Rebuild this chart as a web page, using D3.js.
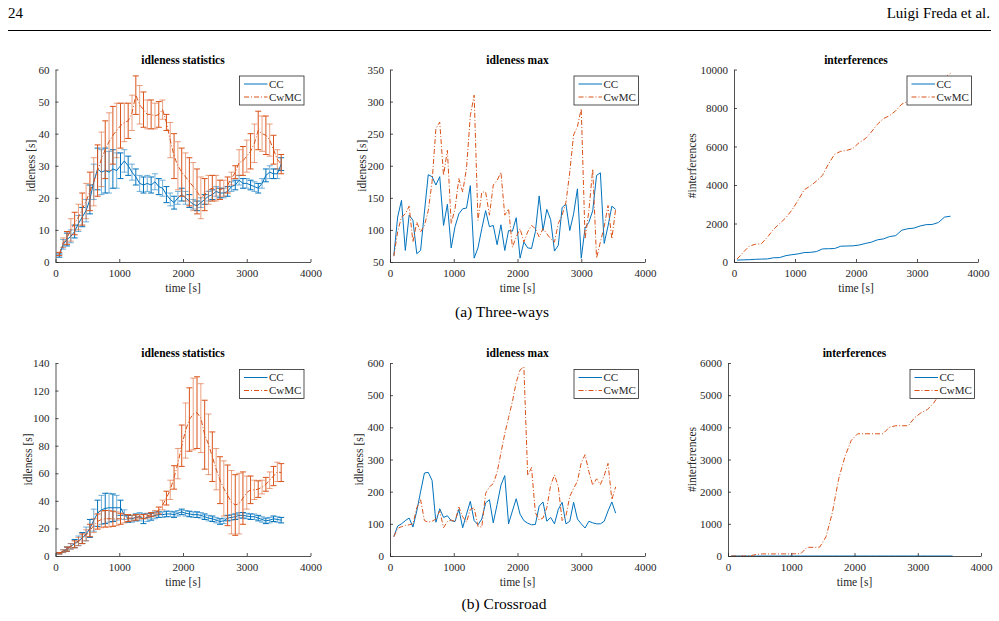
<!DOCTYPE html>
<html>
<head>
<meta charset="utf-8">
<script src="https://cdn.jsdelivr.net/npm/d3@7"></script>
<style>
  body { margin: 0; background: #fff; }
  svg, svg text { font-family: "Liberation Serif", "DejaVu Serif", "Noto Serif", "Times New Roman", serif; }
</style>
</head>
<body>
<div id="container"></div>
<script>
/* DATA */
// sample times [s]
const timeFine = [60,120,180,240,300,360,420,480,540,600,660,720,780,840,900,960,1020,1080,1140,1200,
  1260,1320,1380,1440,1500,1560,1620,1680,1740,1800,1860,1920,1980,2040,2100,2160,2220,2280,2340,2400,
  2460,2520,2580,2640,2700,2760,2820,2880,2940,3000,3060,3120,3180,3240,3300,3360,3420,3480,3540]
const timeCoarse = [50,150,250,350,450,550,650,750,850,950,1050,1150,1250,1350,1450,1550,1650,1750,
  1850,1950,2050,2150,2250,2350,2450,2550,2650,2750,2850,2950,3050,3150,3250,3350,3450,3550]

// (a) Three-ways
const statThreeCC = [2,5.5,7,8,9.5,12,14,16,19.5,25,29,28,28.5,28,29,28.5,30,31.5,30,28,26.5,24.5,24,24.5,24,
  25,23.5,23,21,19.5,18.5,20,21,20,19,18,17.5,18.5,19.5,20.5,21,22,21.5,21.5,22,23.5,24,25.5,24.5,24.5,
  24,23.5,23,24.5,27,28,27.5,27.5,30.5]
const statThreeCCErr = [0.5,1.5,2,2,2,2.5,3,3.5,4.5,5.5,6.5,7,7,6.5,6,5.5,4,3.5,3,2.5,
  2.5,2.5,2.5,2.5,2.5,2.5,2.5,2.5,2.5,2,2,2,2,2,2,1.5,1.5,1.5,1.5,1.5,
  1.5,1.5,1.5,1.5,1.5,1.5,1.5,1.5,1.5,1.5,1.5,1.5,1.5,1.5,2,2,1.5,1.5,2]
const statThreeCwMC = [2.5,6,7.5,10,12,14,16.5,19,22,25,28.5,32,35,37.5,39.5,41,42.5,43.5,44,46.5,
  52,49,47.5,46,46,45.5,46,47.5,43.5,38,33,30,28,26.5,25,23.5,22,20,21,22.5,
  23,23,22.5,23,24,26,28,31,31.5,33,34.5,37,41,40,39.5,38,35,32,30.5]
const statThreeCwMCErr = [0.5,1.5,2,3.5,3.5,4,5,5.5,6,7.5,8,8.5,9,9,9,8.5,7,6,5.5,5.5,
  6,6,5.5,4.5,4.5,4,4,3,2.5,5.5,7,7.5,7.5,7.5,7.5,7.5,7,6.5,5,4.5,
  4,4,3,2.5,2.5,2,2,4,4.5,5,5.5,6,6,5.5,6,5,4.5,3,3]
const maxThreeCC = [60,120,146,68,123,115,63,68,128,186,183,170,183,107,140,72,105,125,133,134,
  169,56,72,102,130,105,107,77,108,68,99,98,119,56,81,72,71,97,153,99,
  132,116,67,76,135,140,99,125,164,56,103,112,130,185,189,79,106,137,132]
const maxThreeCwMC = [59,97,120,125,137,81,112,97,107,130,175,258,268,185,224,110,133,180,159,196,
  278,310,115,159,159,123,170,177,190,123,133,73,89,102,81,97,107,102,89,102,
  94,86,81,110,123,143,190,248,261,289,86,130,195,56,81,105,138,86,133]
const interfThreeCC = [100,110,120,140,150,160,220,230,330,380,420,490,500,540,680,690,700,820,
  830,840,880,960,1030,1150,1200,1320,1370,1650,1730,1760,1870,1940,1950,2050,2330,2380]
const interfThreeCwMC = [150,500,820,920,950,1300,1700,2000,2300,2700,3200,3750,3950,4200,4500,5100,5600,5750,
  5800,5900,6200,6400,6750,7150,7450,7600,7850,8200,8350,8600,8800,9000,9200,9400,9600,9800]

// (b) Crossroad
const statCrossCC = [2,3.5,5,7,9,11,13,16,20,26,31,33.5,34.5,35,35,35,35,30,27,27,
  28,28.5,27,28,28.5,29.5,30,30,30.5,30.5,30,31,32,31,30.5,30,30,29.5,28.5,27.5,
  27,26,25,25.5,27.5,28,28.5,29.5,29.5,29,28.5,28.5,27.5,26.5,25.5,26,27,26.5,26]
const statCrossCCErr = [0.5,1,1.5,2,3,3.5,4,5,6.5,8,9.5,10.5,11,10.5,10,9,5.5,3.5,2.5,2.5,
  2.5,3,3.5,3,2.5,2.5,2,2,2,2,2,2,2,2,2,2,2,2,2,2,
  2,2,2,2,2,2,2,2,2,2,2,2,2,2,2,2,2,2,2]
const statCrossCwMC = [2,3.5,5,7,8.5,10.5,12.5,15,18.5,22,25,26.5,27,27,27,27,27,27,27.5,27.5,
  28,28.5,28.5,29,30,31,33,37,42,48,57,67,80,91,99,103,104,100,88,81,
  72,63,55,49,44,39,37,38,42,46,48,48,48.5,50,52,55,58,61,60.5]
const statCrossCwMCErr = [0.5,1,1.5,2,2.5,3,3.5,4,4.5,5,5.5,6,6,6,5.5,5,4,3,2.5,2,
  2,1.5,1.5,1.5,1.5,2,2.5,3.5,5,7,8.5,11,15,20,23,26,26,25,25,22,
  18,15,17,20,22,23,22,22,19,12,10,7,6,5,5,6,7,7,6.5]
const maxCrossCC = [60,93,100,110,118,90,140,200,258,260,235,105,147,120,125,110,107,145,88,130,
  170,110,97,115,165,175,103,160,220,250,100,140,178,130,110,102,97,98,155,168,
  108,120,100,145,167,100,108,167,115,100,87,108,103,100,100,108,140,168,133]
const maxCrossCwMC = [60,86,91,95,97,100,150,175,110,105,108,115,140,88,107,112,107,152,122,105,
  145,150,92,90,195,215,225,260,320,380,430,480,540,578,588,250,275,135,112,118,
  150,220,252,215,110,125,185,210,232,290,315,262,220,240,222,250,288,175,215]
const interfCrossCC = [0,0,0,0,0,0,0,0,0,0,0,0,0,0,0,0,0,0,0,0,0,0,0,0,0,0,0,0,0,0,0,0,0,0,0,0]
const interfCrossCwMC = [0,0,0,5,50,65,65,65,65,65,70,70,270,270,275,600,1350,2400,
  3100,3600,3800,3800,3800,3800,3800,4000,4050,4050,4050,4300,4450,4550,4750,5050,5300,5500]

// tick labels
const xTicks = [0,1000,2000,3000,4000]
const ticksStatThree = [0,10,20,30,40,50,60]
const ticksMaxThree = [50,100,150,200,250,300,350]
const ticksInterfThree = [0,2000,4000,6000,8000,10000]
const ticksStatCross = [0,20,40,60,80,100,120,140]
const ticksMaxCross = [0,100,200,300,400,500,600]
const ticksInterfCross = [0,1000,2000,3000,4000,5000,6000]

const seriesNames = ["CC", "CwMC"]
const captions = ["(a) Three-ways", "(b) Crossroad"]

/* CONSTANTS AND GLOBALS */
const width = 999, height = 621
const fontFamily = "'Liberation Serif', 'DejaVu Serif', 'Noto Serif', 'Times New Roman', serif"
const colors = { CC: "#0072BD", CwMC: "#D95319" }
const dashes = { CC: null, CwMC: "5,2,1,2" }
const axisColor = "#262626"
const rows = [{ top: 69.5, bottom: 262 }, { top: 363, bottom: 556 }]

const panels = [
  { row: 0, x0: 55.5, x1: 310.5, title: "idleness statistics", ylabel: "idleness [s]", yDomain: [0, 60], yTicks: ticksStatThree, ylabOff: 24, bars: true,
    series: [{ name: "CC", t: timeFine, v: statThreeCC, e: statThreeCCErr }, { name: "CwMC", t: timeFine, v: statThreeCwMC, e: statThreeCwMCErr }] },
  { row: 0, x0: 390, x1: 645, title: "idleness max", ylabel: "idleness [s]", yDomain: [50, 350], yTicks: ticksMaxThree, ylabOff: 28, bars: false,
    series: [{ name: "CC", t: timeFine, v: maxThreeCC }, { name: "CwMC", t: timeFine, v: maxThreeCwMC }] },
  { row: 0, x0: 734, x1: 978, title: "interferences", ylabel: "#interferences", yDomain: [0, 10000], yTicks: ticksInterfThree, ylabOff: 42, bars: false,
    series: [{ name: "CC", t: timeCoarse, v: interfThreeCC }, { name: "CwMC", t: timeCoarse, v: interfThreeCwMC }] },
  { row: 1, x0: 55.5, x1: 310.5, title: "idleness statistics", ylabel: "idleness [s]", yDomain: [0, 140], yTicks: ticksStatCross, ylabOff: 27, bars: true,
    series: [{ name: "CC", t: timeFine, v: statCrossCC, e: statCrossCCErr }, { name: "CwMC", t: timeFine, v: statCrossCwMC, e: statCrossCwMCErr }] },
  { row: 1, x0: 390, x1: 645, title: "idleness max", ylabel: "idleness [s]", yDomain: [0, 600], yTicks: ticksMaxCross, ylabOff: 31, bars: false,
    series: [{ name: "CC", t: timeFine, v: maxCrossCC }, { name: "CwMC", t: timeFine, v: maxCrossCwMC }] },
  { row: 1, x0: 728, x1: 981, title: "interferences", ylabel: "#interferences", yDomain: [0, 6000], yTicks: ticksInterfCross, ylabOff: 36, bars: false,
    series: [{ name: "CC", t: timeCoarse, v: interfCrossCC }, { name: "CwMC", t: timeCoarse, v: interfCrossCwMC }] }
]

/* HTML ELEMENTS */
const svg = d3.select("#container")
  .append("svg")
  .attr("width", width)
  .attr("height", height)
  .attr("font-family", fontFamily)
  .style("display", "block")

svg.append("rect").attr("width", width).attr("height", height).attr("fill", "#fff")

// page header
svg.append("text").attr("x", 8).attr("y", 18).attr("font-size", 15).text("24")
svg.append("text").attr("x", 990).attr("y", 18).attr("font-size", 15).attr("text-anchor", "end").text("Luigi Freda et al.")
svg.append("line").attr("x1", 8).attr("x2", 991).attr("y1", 30.5).attr("y2", 30.5).attr("stroke", "#000").attr("stroke-width", 1)

// captions
svg.append("text").attr("x", 502).attr("y", 317).attr("font-size", 15.5).attr("text-anchor", "middle").text(captions[0])
svg.append("text").attr("x", 504).attr("y", 609).attr("font-size", 15.5).attr("text-anchor", "middle").text(captions[1])

panels.forEach((p, pi) => {
  const r = rows[p.row]

  /* SCALES */
  const xScale = d3.scaleLinear().domain([0, 4000]).range([p.x0, p.x1])
  const yScale = d3.scaleLinear().domain(p.yDomain).range([r.bottom, r.top])

  const g = svg.append("g")

  // clip to plot area
  const clipId = "clip" + pi
  g.append("clipPath").attr("id", clipId)
    .append("rect")
    .attr("x", p.x0).attr("y", r.top - 1)
    .attr("width", p.x1 - p.x0).attr("height", r.bottom - r.top + 2)

  const plot = g.append("g").attr("clip-path", `url(#${clipId})`)

  p.series.forEach(s => {
    const pts = s.t.map((t, i) => ({ t, v: s.v[i], e: s.e ? s.e[i] : 0, i }))

    // error bars, every other one a lighter shade
    if (p.bars) {
      plot.append("g")
        .selectAll("path.bar")
        .data(pts)
        .join("path")
        .attr("class", "bar")
        .attr("fill", "none")
        .attr("stroke", colors[s.name])
        .attr("stroke-width", 1)
        .attr("opacity", d => d.i % 2 ? 0.55 : 1)
        .attr("d", d => {
          const cx = xScale(d.t), lo = yScale(d.v - d.e), hi = yScale(d.v + d.e)
          return `M${cx},${lo}V${hi}M${cx - 3},${lo}H${cx + 3}M${cx - 3},${hi}H${cx + 3}`
        })
    }

    const line = d3.line().x(d => xScale(d.t)).y(d => yScale(d.v))
    plot.append("path")
      .datum(pts)
      .attr("fill", "none")
      .attr("stroke", colors[s.name])
      .attr("stroke-width", 1)
      .attr("stroke-dasharray", dashes[s.name])
      .attr("d", line)
  })

  // axes
  const xAxis = d3.axisBottom(xScale).tickValues(xTicks).tickSizeInner(-3).tickSizeOuter(0).tickPadding(7).tickFormat(d3.format("d"))
  const yAxis = d3.axisLeft(yScale).tickValues(p.yTicks).tickSizeInner(-3).tickSizeOuter(0).tickPadding(6).tickFormat(d3.format("d"))

  const gx = g.append("g").attr("transform", `translate(0,${r.bottom})`).call(xAxis)
  const gy = g.append("g").attr("transform", `translate(${p.x0},0)`).call(yAxis)
  ;[gx, gy].forEach(a => {
    a.attr("font-family", fontFamily).attr("font-size", null)
    a.select(".domain").attr("stroke", axisColor).attr("stroke-width", 0.8)
    a.selectAll(".tick line").attr("stroke", axisColor).attr("stroke-width", 0.8)
    a.selectAll(".tick text").attr("fill", axisColor).attr("font-size", 11)
  })

  // title and labels
  g.append("text")
    .attr("x", (p.x0 + p.x1) / 2).attr("y", r.top - 6)
    .attr("text-anchor", "middle").attr("font-weight", "bold").attr("font-size", 11.5)
    .text(p.title)

  g.append("text")
    .attr("x", (p.x0 + p.x1) / 2).attr("y", r.bottom + 29.5)
    .attr("text-anchor", "middle").attr("font-size", 11.5).attr("fill", axisColor)
    .text("time [s]")

  g.append("text")
    .attr("transform", `translate(${p.x0 - p.ylabOff},${(r.top + r.bottom) / 2}) rotate(-90)`)
    .attr("text-anchor", "middle").attr("dy", "0.32em").attr("font-size", 11.5).attr("fill", axisColor)
    .text(p.ylabel)

  // legend
  const lw = 64.5, lh = 29
  const lx = p.x1 - 6.5 - lw, ly = r.top + 6.5
  const leg = g.append("g").attr("transform", `translate(${lx},${ly})`)
  leg.append("rect").attr("width", lw).attr("height", lh)
    .attr("fill", "#fff").attr("stroke", axisColor).attr("stroke-width", 0.8)
  seriesNames.forEach((name, i) => {
    const cy = 8 + i * 13
    leg.append("line")
      .attr("x1", 4.5).attr("x2", 28).attr("y1", cy).attr("y2", cy)
      .attr("stroke", colors[name]).attr("stroke-width", 1)
      .attr("stroke-dasharray", dashes[name])
    leg.append("text")
      .attr("x", 29.5).attr("y", cy).attr("dy", "0.35em")
      .attr("font-size", 11).attr("fill", axisColor)
      .text(name)
  })
})
</script>
</body>
</html>
